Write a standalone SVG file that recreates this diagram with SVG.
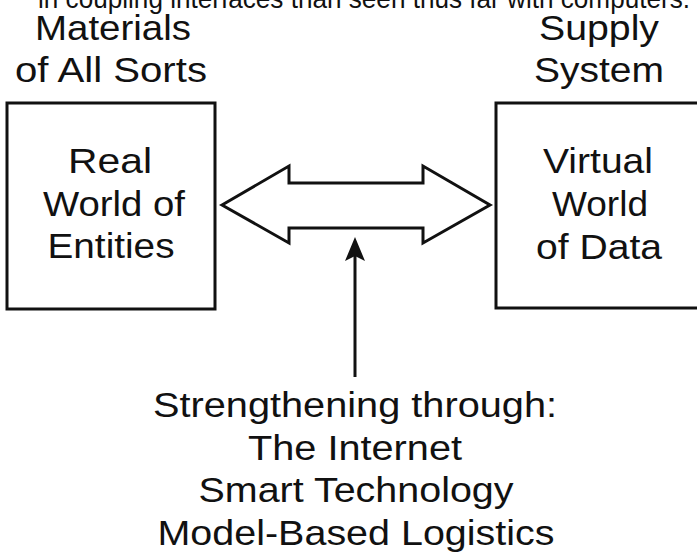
<svg xmlns="http://www.w3.org/2000/svg" width="697" height="556" viewBox="0 0 697 556">
<style>
text{font-family:"Liberation Sans",Arial,sans-serif;font-size:35px;fill:#111;text-anchor:middle}
.box{fill:#fff;stroke:#111;stroke-width:3}
.ln{fill:none;stroke:#111;stroke-width:3;stroke-linejoin:miter}
</style>
<rect width="697" height="556" fill="#fff"/>
<text x="364" y="8" textLength="652" lengthAdjust="spacingAndGlyphs" style="font-size:28px">in coupling interfaces than seen thus far with computers.</text>
<g id="real-world">
<text x="113" y="40" textLength="156" lengthAdjust="spacingAndGlyphs">Materials</text>
<text x="111" y="82" textLength="192" lengthAdjust="spacingAndGlyphs">of All Sorts</text>
<rect class="box" x="7" y="103" width="208" height="206"/>
<text x="110" y="173" textLength="84" lengthAdjust="spacingAndGlyphs">Real</text>
<text x="114" y="216" textLength="142" lengthAdjust="spacingAndGlyphs">World of</text>
<text x="111" y="258" textLength="127" lengthAdjust="spacingAndGlyphs">Entities</text>
</g>
<g id="virtual-world">
<text x="599" y="40" textLength="120" lengthAdjust="spacingAndGlyphs">Supply</text>
<text x="599" y="82" textLength="130" lengthAdjust="spacingAndGlyphs">System</text>
<rect class="box" x="496" y="103" width="210" height="205"/>
<text x="598" y="173" textLength="110" lengthAdjust="spacingAndGlyphs">Virtual</text>
<text x="600" y="216" textLength="96" lengthAdjust="spacingAndGlyphs">World</text>
<text x="599" y="259" textLength="126" lengthAdjust="spacingAndGlyphs">of Data</text>
</g>
<g id="strengthening">
<text x="355" y="417" textLength="404" lengthAdjust="spacingAndGlyphs">Strengthening through:</text>
<text x="355" y="460" textLength="214" lengthAdjust="spacingAndGlyphs">The Internet</text>
<text x="356" y="502" textLength="315" lengthAdjust="spacingAndGlyphs">Smart Technology</text>
<text x="356" y="545" textLength="397" lengthAdjust="spacingAndGlyphs">Model-Based Logistics</text>
</g>
<g id="connectors">
<path class="ln" d="M222,205 L289,166 L289,183 L423,183 L423,166 L490,205 L423,243 L423,228 L289,228 L289,243 Z"/>
<line class="ln" x1="355" y1="377" x2="355" y2="255"/>
<path d="M355,237 L345,261 L355,256 L365,261 Z" fill="#111"/>
</g>
</svg>
